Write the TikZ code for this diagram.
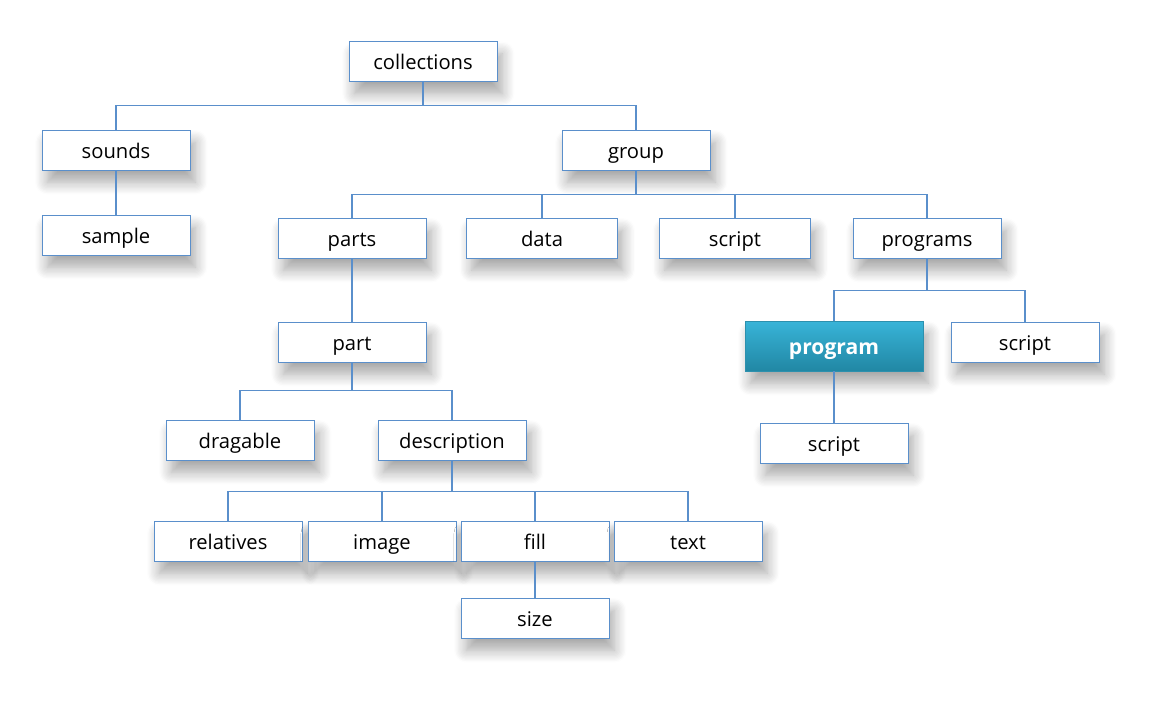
\documentclass[tikz,border=0pt]{standalone}
\usepackage{fontspec}
\setmainfont{Open Sans}
\usetikzlibrary{shadows.blur}
\definecolor{edgeblue}{HTML}{5A8FCB}
\definecolor{progtop}{HTML}{38B4D8}
\definecolor{progbot}{HTML}{2187A4}
\tikzset{
  box/.style={draw=edgeblue, fill=white, minimum width=2.96cm, minimum height=.8cm,
    font=\fontsize{11.5}{13}\selectfont, inner sep=0pt, text height=1.9ex, text depth=.2ex,
    blur shadow={shadow xshift=3pt, shadow yshift=-7pt, shadow blur steps=10, shadow blur radius=7pt, shadow opacity=35}},
  hilite/.style={box, draw=progtop!80!black, top color=progtop, bottom color=progbot,
    text=white, font=\fontsize{12}{14}\bfseries, minimum width=3.56cm, minimum height=1cm},
  tree/.style={draw=edgeblue, line width=.6pt}
}
\begin{document}
\begin{tikzpicture}[x=0.02cm, y=-0.02cm]
	\useasboundingbox (0,0) rectangle (1159,701);
	% top levels
	\node[box] (collections) at (423,61.5) {collections};
	\node[box] (sounds) at (116,150) {sounds};
	\node[box] (group) at (636,150) {group};
	\node[box] (sample) at (116,235) {sample};
	\node[box] (parts) at (352,238) {parts};
	\node[box, minimum width=3.02cm] (data) at (542,238) {data};
	\node[box, minimum width=3.02cm] (script1) at (735,238) {script};
	\node[box] (programs) at (927,238) {programs};
	% programs branch
	\node[hilite] (program) at (834,346) {program};
	\node[box] (script2) at (1025,342) {script};
	\node[box] (script3) at (834,443) {script};
	% parts branch
	\node[box] (part) at (352,342) {part};
	\node[box] (dragable) at (240,440) {dragable};
	\node[box] (description) at (452,440) {description};
	\node[box] (relatives) at (228,541) {relatives};
	\node[box] (image) at (382,541) {image};
	\node[box] (fill) at (535,541) {fill};
	\node[box] (text) at (688,541) {text};
	\node[box] (size) at (535,618) {size};
	% connectors
	\draw[tree] (collections.south) -- ++(0,24) coordinate (c1) -| (sounds.north);
	\draw[tree] (c1) -| (group.north);
	\draw[tree] (sounds) -- (sample);
	\draw[tree] (group.south) -- ++(0,24) coordinate (g1) -| (parts.north);
	\foreach \n in {data, script1, programs}
		\draw[tree] (g1) -| (\n.north);
	\draw[tree] (programs.south) -- ++(0,32) coordinate (p1) -| (program.north);
	\draw[tree] (p1) -| (script2.north);
	\draw[tree] (program) -- (script3);
	\draw[tree] (parts) -- (part);
	\draw[tree] (part.south) -- ++(0,28) coordinate (q1) -| (dragable.north);
	\draw[tree] (q1) -| (description.north);
	\draw[tree] (description.south) -- ++(0,31) coordinate (d1) -| (relatives.north);
	\foreach \n in {image, fill, text}
		\draw[tree] (d1) -| (\n.north);
	\draw[tree] (fill) -- (size);
\end{tikzpicture}
\end{document}
